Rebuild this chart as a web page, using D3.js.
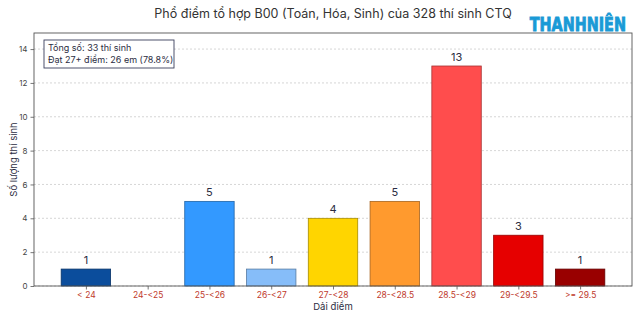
<!DOCTYPE html>
<meta charset="utf-8">
<script src="https://d3js.org/d3.v7.min.js"></script>
<style>
  body { margin: 0; background: #fff; }
  text { font-family: Inter, "Noto Sans", sans-serif; }
</style>
<div id="chart"></div>
<script>
// data
var categories = ["< 24", "24-<25", "25-<26", "26-<27", "27-<28", "28-<28.5", "28.5-<29", "29-<29.5", ">= 29.5"];
var counts = [1, 0, 5, 1, 4, 5, 13, 3, 1];
var barColors = ["#0b4d9c", "#3399ff", "#3399ff", "#86bdf9", "#ffd500", "#ff9a2e", "#ff4d4d", "#e60000", "#990000"];
var yTicks = [0, 2, 4, 6, 8, 10, 12, 14];
var infoLines = ["Tổng số: 33 thí sinh", "Đạt 27+ điểm: 26 em (78.8%)"];

var W = 640, H = 320;
var margin = {top: 33, right: 8, bottom: 34, left: 34};
var width = W - margin.left - margin.right,
    height = H - margin.top - margin.bottom;

var svg = d3.select("#chart").append("svg")
    .attr("width", W).attr("height", H);

// title
svg.append("text")
  .attr("x", 333).attr("y", 18)
  .attr("text-anchor", "middle")
  .style("font-size", "12.5px").style("fill", "#333")
  .text("Phổ điểm tổ hợp B00 (Toán, Hóa, Sinh) của 328 thí sinh CTQ");

// logo
svg.append("text")
  .attr("transform", "translate(626,31) scale(1,1.2)")
  .attr("text-anchor", "end")
  .style("font-family", "'Liberation Sans Narrow', 'DejaVu Sans Condensed', sans-serif")
  .style("font-weight", "bold")
  .style("font-size", "16px").style("fill", "#1a9ad6")
  .style("stroke", "#1a9ad6").style("stroke-width", 0.7)
  .text("THANHNIÊN");

var g = svg.append("g")
  .attr("transform", "translate(" + margin.left + "," + margin.top + ")");

// x scale: index positions like matplotlib
var x = d3.scaleLinear().domain([-0.84, categories.length - 1 + 0.84]).range([0, width]);
var y = d3.scaleLinear().domain([0, 14.95]).range([height, 0]);

// grid
g.selectAll(".grid").data(yTicks).enter().append("line")
  .attr("x1", 0).attr("x2", width)
  .attr("y1", function(d) { return y(d); }).attr("y2", function(d) { return y(d); })
  .attr("stroke", "#ccc").attr("stroke-width", 0.8).attr("stroke-dasharray", "2,2");

// bars
var bw = 0.8;
g.selectAll(".bar").data(counts).enter().append("rect")
  .attr("x", function(d, i) { return x(i - bw / 2); })
  .attr("width", x(bw) - x(0))
  .attr("y", function(d) { return y(d); })
  .attr("height", function(d) { return height - y(d); })
  .attr("fill", function(d, i) { return barColors[i]; })
  .attr("stroke", function(d, i) { return d3.color(barColors[i]).darker(1.2); })
  .attr("stroke-width", 0.8)
  .style("display", function(d) { return d > 0 ? null : "none"; });

// value labels
counts.forEach(function(d, i) {
  if (d <= 0) return;
  g.append("text")
    .attr("x", x(i)).attr("y", y(d) - 5)
    .attr("text-anchor", "middle")
    .style("font-size", "11px").style("fill", "#2b2d42")
    .text(d);
});

// axes
var xAxis = g.append("g")
  .attr("transform", "translate(0," + height + ")")
  .call(d3.axisBottom(x).tickValues(d3.range(categories.length))
    .tickFormat(function(i) { return categories[i]; }).tickSize(3.5).tickSizeOuter(0));
xAxis.selectAll("text").style("fill", "#c0392b").style("font-size", "8.5px").attr("y", 5.5);

var yAxis = g.append("g")
  .call(d3.axisLeft(y).tickValues(yTicks).tickSize(3.5).tickSizeOuter(0));
yAxis.selectAll("text").style("fill", "#444").style("font-size", "8px");

svg.selectAll(".domain").remove();
svg.selectAll(".tick line").attr("stroke", "#555").attr("stroke-width", 0.8);

// frame
g.append("rect")
  .attr("x", 0).attr("y", 0).attr("width", width).attr("height", height)
  .attr("fill", "none").attr("stroke", "#555").attr("stroke-width", 0.9);

// axis labels
svg.append("text")
  .attr("x", margin.left + width / 2).attr("y", 310)
  .attr("text-anchor", "middle")
  .style("font-size", "9.5px").style("fill", "#2b2d42")
  .text("Dải điểm");

svg.append("text")
  .attr("transform", "translate(17," + (margin.top + height / 2) + ") rotate(-90)")
  .attr("text-anchor", "middle")
  .style("font-size", "9.5px").style("fill", "#2b2d42")
  .text("Số lượng thí sinh");

// info box
var box = g.append("g").attr("transform", "translate(10,7)");
box.append("rect")
  .attr("width", 130).attr("height", 28)
  .attr("fill", "#fff").attr("stroke", "#3b3f5c").attr("stroke-width", 0.9);
box.selectAll(".info").data(infoLines).enter().append("text")
  .attr("x", 4).attr("y", function(d, i) { return 11 + i * 12; })
  .style("font-size", "9px").style("fill", "#2b2d42")
  .text(function(d) { return d; });
</script>
